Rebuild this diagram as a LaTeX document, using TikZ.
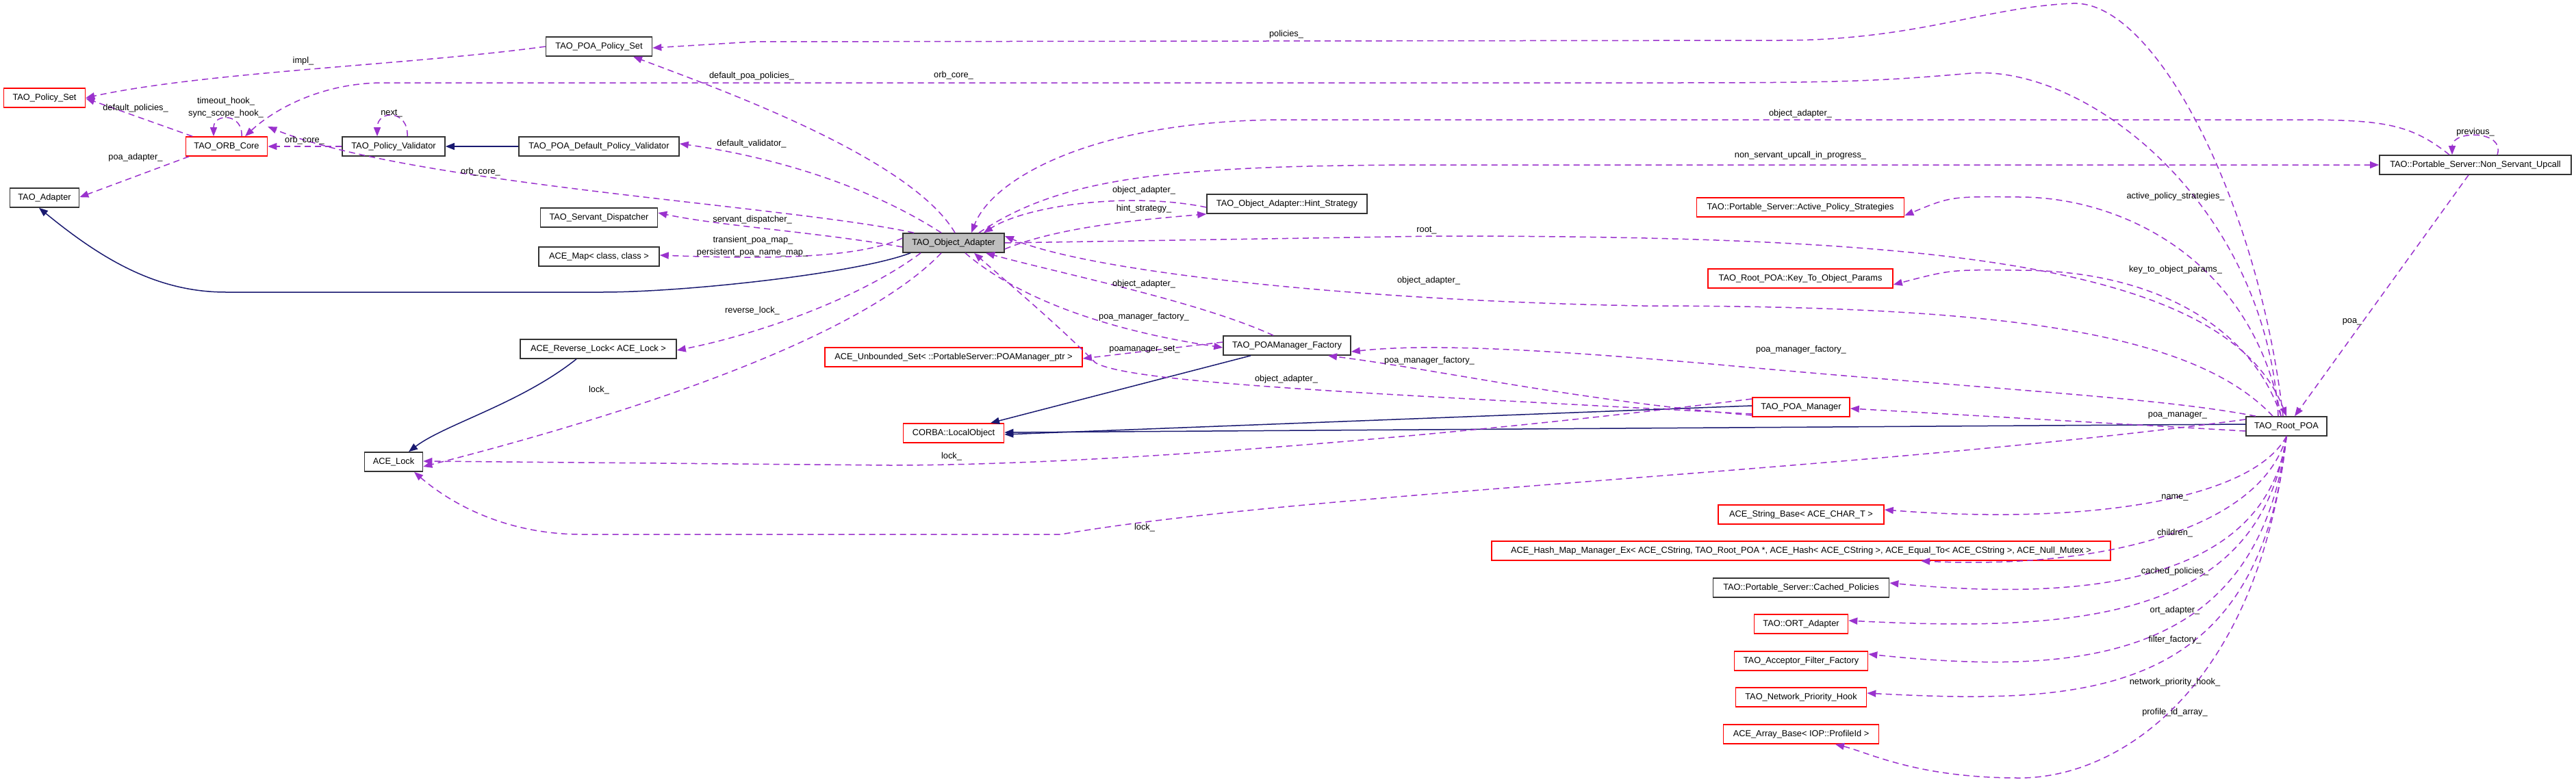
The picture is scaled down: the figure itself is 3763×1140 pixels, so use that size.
\documentclass[tikz,border=0pt]{standalone}
\usepackage{fontspec}
\setmainfont{Liberation Sans}
\usetikzlibrary{arrows.meta}
\definecolor{dep}{HTML}{9A32CD}
\definecolor{inh}{HTML}{191970}
\definecolor{bred}{HTML}{FF0000}
\begin{document}
\begin{tikzpicture}[x=1pt,y=-1pt,
  every node/.style={font=\fontsize{12.8}{14}\selectfont},
  cls/.style={draw=black!80,line width=1.6pt,minimum height=28pt,inner sep=0pt,fill=white},
  rcls/.style={cls,draw=bred},
  lab/.style={inner sep=0pt},
  use/.style={draw=dep,line width=1.5pt,dash pattern=on 9pt off 6pt,-{Triangle[length=13pt,width=10pt]}},
  isa/.style={draw=inh,line width=1.5pt,-{Triangle[length=13pt,width=10pt]}}]
\useasboundingbox (0,0) rectangle (3763,1140);
% nodes
\node[rcls,minimum width=119pt] (ps) at (65,143) {TAO\_Policy\_Set};
\node[cls,minimum width=155pt] (pps) at (875,68) {TAO\_POA\_Policy\_Set};
\node[rcls,minimum width=119pt] (orb) at (331,214) {TAO\_ORB\_Core};
\node[cls,minimum width=150pt] (pv) at (575,214) {TAO\_Policy\_Validator};
\node[cls,minimum width=234pt] (pdpv) at (875,214) {TAO\_POA\_Default\_Policy\_Validator};
\node[cls,minimum width=101pt] (ad) at (65,289) {TAO\_Adapter};
\node[cls,minimum width=171pt] (sd) at (875,318) {TAO\_Servant\_Dispatcher};
\node[cls,minimum width=176pt] (map) at (875,375) {ACE\_Map< class, class >};
\node[cls,fill=black!25,minimum width=148pt] (oa) at (1393,355) {TAO\_Object\_Adapter};
\node[cls,minimum width=234pt] (hint) at (1880,298) {TAO\_Object\_Adapter::Hint\_Strategy};
\node[cls,minimum width=228pt] (rl) at (874,510) {ACE\_Reverse\_Lock< ACE\_Lock >};
\node[rcls,minimum width=376pt] (ub) at (1393,522) {ACE\_Unbounded\_Set< ::PortableServer::POAManager\_ptr >};
\node[rcls,minimum width=147pt] (lo) at (1393,633) {CORBA::LocalObject};
\node[cls,minimum width=186pt] (fac) at (1880,505) {TAO\_POAManager\_Factory};
\node[cls,minimum width=85pt] (lk) at (575,675) {ACE\_Lock};
\node[rcls,minimum width=142pt] (pm) at (2631,595) {TAO\_POA\_Manager};
\node[cls,minimum width=118pt] (rp) at (3340,623) {TAO\_Root\_POA};
\node[cls,minimum width=280pt] (nsu) at (3616,241) {TAO::Portable\_Server::Non\_Servant\_Upcall};
\node[rcls,minimum width=303pt] (aps) at (2630,303) {TAO::Portable\_Server::Active\_Policy\_Strategies};
\node[rcls,minimum width=270pt] (kop) at (2630,407) {TAO\_Root\_POA::Key\_To\_Object\_Params};
\node[rcls,minimum width=242pt] (sb) at (2631,752) {ACE\_String\_Base< ACE\_CHAR\_T >};
\node[rcls,minimum width=904pt] (hm) at (2631,805) {ACE\_Hash\_Map\_Manager\_Ex< ACE\_CString, TAO\_Root\_POA *, ACE\_Hash< ACE\_CString >, ACE\_Equal\_To< ACE\_CString >, ACE\_Null\_Mutex >};
\node[cls,minimum width=257pt] (cp) at (2631,859) {TAO::Portable\_Server::Cached\_Policies};
\node[rcls,minimum width=137pt] (ort) at (2631,912) {TAO::ORT\_Adapter};
\node[rcls,minimum width=195pt] (aff) at (2631,966) {TAO\_Acceptor\_Filter\_Factory};
\node[rcls,minimum width=191pt] (nph) at (2631,1019) {TAO\_Network\_Priority\_Hook};
\node[rcls,minimum width=227pt] (ab) at (2631,1073) {ACE\_Array\_Base< IOP::ProfileId >};
% left cluster
\draw[use] (pps.west) .. controls (600,95) and (300,105) .. (ps.east);
\draw[use] ([xshift=-50]orb.north) -- ([yshift=14]ps.south east);
\draw[use] ([xshift=-55]orb.south) -- ([yshift=-14]ad.north east);
\draw[use] ([xshift=22]orb.north) .. controls (355,165) and (312,165) .. ([xshift=-19]orb.north);
\draw[use] ([xshift=20]pv.north) .. controls (597,160) and (551,160) .. ([xshift=-24]pv.north);
\draw[use] (pv.west) -- (orb.east);
\draw[isa] (pdpv.west) -- (pv.east);
\draw[isa] ([xshift=-63]oa.south) .. controls (1250,400) and (1000,427) .. (880,427) -- (330,427) .. controls (230,427) and (150,380) .. ([xshift=-8]ad.south);
\draw[use] ([xshift=-58]oa.north) .. controls (1150,300) and (600,270) .. ([yshift=14]orb.north east);
\draw[use] ([xshift=-12]rp.north) .. controls (3310,300) and (3050,95) .. (2880,107) .. controls (2750,118) and (2700,121) .. (2450,121) -- (560,121) .. controls (470,121) and (400,160) .. ([xshift=27]orb.north);
\draw[use] ([xshift=-5]rp.north) .. controls (3300,300) and (3150,0) .. (3028,5) .. controls (2900,10) and (2800,59) .. (2600,59) -- (1100,61) -- ([yshift=-2]pps.east);
\draw[use] ([xshift=2]oa.north) .. controls (1330,230) and (1050,130) .. ([xshift=50]pps.south);
\draw[use] ([xshift=-18]oa.north) .. controls (1250,260) and (1100,225) .. ([yshift=4]pdpv.east);
\draw[use] ([yshift=-6]oa.west) .. controls (1200,340) and (1050,330) .. ([yshift=7]sd.east);
\draw[use] ([yshift=7]oa.west) .. controls (1250,380) and (1100,378) .. ([yshift=2]map.east);
\draw[use] ([xshift=-48]oa.south) .. controls (1250,440) and (1100,490) .. ([yshift=-2]rl.east);
\draw[use] ([xshift=-18]oa.south) .. controls (1250,500) and (900,610) .. ([yshift=-7]lk.east);
\draw[isa] ([xshift=-32]rl.south) .. controls (760,590) and (650,620) .. ([xshift=22]lk.north);
% object adapter right
\draw[use] ([xshift=-38]nsu.north) .. controls (3520,180) and (3480,175) .. (3350,175) -- (1880,175) .. controls (1600,175) and (1450,260) .. ([xshift=26]oa.north);
\draw[use] ([xshift=37]oa.north) .. controls (1550,260) and (1700,241) .. (2100,241) -- (nsu.west);
\draw[use] ([xshift=32]nsu.north) .. controls (3660,190) and (3582,190) .. ([xshift=-34]nsu.north);
\draw[use] ([yshift=-5]hint.west) .. controls (1650,280) and (1500,300) .. ([xshift=44]oa.north);
\draw[use] ([yshift=-9]oa.east) .. controls (1550,330) and (1680,320) .. (hint.south west);
\draw[use] (oa.east) -- (2100,345) .. controls (2800,345) and (3250,380) .. (rp.north);
\draw[use] ([xshift=-20]rp.north) .. controls (3200,480) and (2900,447) .. (2400,447) .. controls (2000,440) and (1600,400) .. ([yshift=10]oa.east);
\draw[use] ([xshift=-10]nsu.south) -- ([xshift=12]rp.north);
\draw[use] ([xshift=-8]rp.north) .. controls (3290,380) and (3100,288) .. (2950,288) .. controls (2850,287) .. ([yshift=-12]aps.east);
\draw[use] ([xshift=-8]rp.north) .. controls (3290,480) and (3150,395) .. (2950,395) .. controls (2850,394) .. ([yshift=-9]kop.east);
% factory region
\draw[use] ([xshift=17]oa.south) .. controls (1480,430) and (1600,480) .. ([yshift=-3]fac.west);
\draw[use] ([xshift=-20]fac.north) .. controls (1750,440) and (1550,400) .. ([xshift=47]oa.south);
\draw[use] ([yshift=5]fac.west) -- ([yshift=-2]ub.east);
\draw[isa] ([xshift=-53]fac.south) -- ([xshift=54]lo.north);
\draw[use] ([yshift=-10]pm.west) .. controls (2000,575) and (1650,560) .. (1600,530) .. controls (1540,470) and (1480,420) .. ([xshift=30]oa.south);
\draw[isa] ([yshift=2]pm.west) -- ([yshift=-2]lo.east);
\draw[isa] ([yshift=3]rp.west) -- ([yshift=1]lo.east);
\draw[use] ([yshift=-12]pm.west) .. controls (2300,585) and (2100,540) .. ([xshift=60]fac.south);
\draw[use] ([xshift=-45]rp.north) .. controls (3150,580) and (2900,569) .. (2500,532) .. controls (2300,515) and (2100,500) .. ([yshift=-9]fac.east);
\draw[use] ([yshift=-7]rp.west) -- ([yshift=-2]pm.east);
\draw[use] ([yshift=12]pm.west) .. controls (2100,640) and (1600,680) .. (1300,680) -- ([yshift=1]lk.east);
\draw[use] ([yshift=10]rp.west) .. controls (2700,690) and (1900,720) .. (1550,781) -- (850,781) .. controls (720,781) and (640,720) .. ([xshift=30]lk.south);
% bottom list
\draw[use] (rp.south) .. controls (3290,730) and (3050,768) .. ([yshift=7]sb.east);
\draw[use] (rp.south) .. controls (3300,780) and (3050,832) .. ([xshift=175]hm.south);
\draw[use] (rp.south) .. controls (3310,850) and (3050,880) .. ([yshift=7]cp.east);
\draw[use] (rp.south) .. controls (3300,900) and (3050,925) .. ([yshift=5]ort.east);
\draw[use] (rp.south) .. controls (3300,960) and (3050,990) .. ([yshift=10]aff.east);
\draw[use] (rp.south) .. controls (3300,1020) and (3050,1030) .. ([yshift=6]nph.east);
\draw[use] (rp.south) .. controls (3300,1000) and (3100,1137) .. (2950,1137) .. controls (2800,1137) and (2730,1100) .. ([xshift=50]ab.south);
% labels
\node[lab] (l1) at (443,89) {impl\_};
\node[lab] (l2) at (198,158) {default\_policies\_};
\node[lab] (l3) at (198,230) {poa\_adapter\_};
\node[lab] (l4) at (330,148) {timeout\_hook\_};
\node[lab] (l5) at (330,166) {sync\_scope\_hook\_};
\node[lab] (l6) at (572,166) {next\_};
\node[lab] (l7) at (445,205) {orb\_core\_};
\node[lab] (l8) at (702,251) {orb\_core\_};
\node[lab] (l9) at (1393,110) {orb\_core\_};
\node[lab] (l10) at (1879,50) {policies\_};
\node[lab] (l11) at (1098,111) {default\_poa\_policies\_};
\node[lab] (l12) at (1098,210) {default\_validator\_};
\node[lab] (l13) at (1099,321) {servant\_dispatcher\_};
\node[lab] (l14) at (1100,351) {transient\_poa\_map\_};
\node[lab] (l15) at (1099,369) {persistent\_poa\_name\_map\_};
\node[lab] (l16) at (1099,454) {reverse\_lock\_};
\node[lab] (l17) at (875,570) {lock\_};
\node[lab] (l18) at (2630,166) {object\_adapter\_};
\node[lab] (l19) at (2630,227) {non\_servant\_upcall\_in\_progress\_};
\node[lab] (l20) at (3616,193) {previous\_};
\node[lab] (l21) at (1671,278) {object\_adapter\_};
\node[lab] (l22) at (1671,305) {hint\_strategy\_};
\node[lab] (l23) at (2084,337) {root\_};
\node[lab] (l24) at (2087,410) {object\_adapter\_};
\node[lab] (l25) at (3178,287) {active\_policy\_strategies\_};
\node[lab] (l26) at (3178,394) {key\_to\_object\_params\_};
\node[lab] (l27) at (3436,470) {poa\_};
\node[lab] (l28) at (1671,415) {object\_adapter\_};
\node[lab] (l29) at (1671,463) {poa\_manager\_factory\_};
\node[lab] (l30) at (1672,511) {poamanager\_set\_};
\node[lab] (l31) at (2088,527) {poa\_manager\_factory\_};
\node[lab] (l32) at (1879,554) {object\_adapter\_};
\node[lab] (l33) at (2631,511) {poa\_manager\_factory\_};
\node[lab] (l34) at (3181,607) {poa\_manager\_};
\node[lab] (l35) at (1390,667) {lock\_};
\node[lab] (l36) at (1672,771) {lock\_};
\node[lab] (l37) at (3177,727) {name\_};
\node[lab] (l38) at (3177,779) {children\_};
\node[lab] (l39) at (3177,835) {cached\_policies\_};
\node[lab] (l40) at (3177,892) {ort\_adapter\_};
\node[lab] (l41) at (3177,935) {filter\_factory\_};
\node[lab] (l42) at (3177,997) {network\_priority\_hook\_};
\node[lab] (l43) at (3177,1041) {profile\_id\_array\_};
\end{tikzpicture}
\end{document}
